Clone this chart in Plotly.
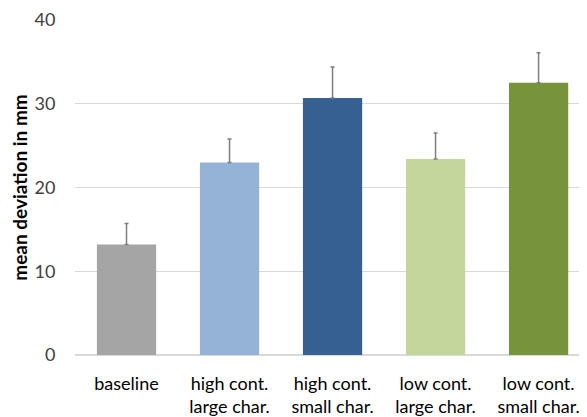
import plotly.graph_objects as go

categories = ["baseline", "high cont.<br>large char.", "high cont.<br>small char.",
              "low cont.<br>large char.", "low cont.<br>small char."]
means = [13.2, 23.0, 30.7, 23.4, 32.5]
errors = [2.5, 2.8, 3.7, 3.1, 3.6]
colors = ["#a5a5a5", "#95b3d7", "#366092", "#c3d69b", "#77933c"]

fig = go.Figure(go.Bar(
    x=categories, y=means, marker=dict(color=colors, line=dict(width=0)),
    width=0.575,
    error_y=dict(type="data", array=errors, arrayminus=[0]*5, symmetric=False,
                 color="#7f7f7f", thickness=1.5, width=2),
))
# page body has an 8px margin, so the figure is shifted by 8px
fig.update_layout(
    width=579, height=409, plot_bgcolor="white", paper_bgcolor="white",
    margin=dict(l=67, r=0, t=12, b=55), showlegend=False,
    font=dict(family="Lato", size=18, color="#000000"),
)
fig.update_xaxes(range=[-0.5, 4.47], showline=False, ticks="outside",
                 ticklen=12, tickcolor="rgba(0,0,0,0)", tickfont=dict(size=18, color="#000000"))
fig.update_yaxes(range=[0, 40], dtick=10, gridcolor="#d9d9d9", gridwidth=1,
                 zeroline=True, zerolinecolor="#d9d9d9", zerolinewidth=1.5,
                 ticks="outside", ticklen=15, tickcolor="rgba(0,0,0,0)",
                 tickfont=dict(size=18, color="#404040"),
                 title=dict(text="<b>mean deviation in mm</b>", font=dict(size=19), standoff=2))
fig.write_html("out.html")
